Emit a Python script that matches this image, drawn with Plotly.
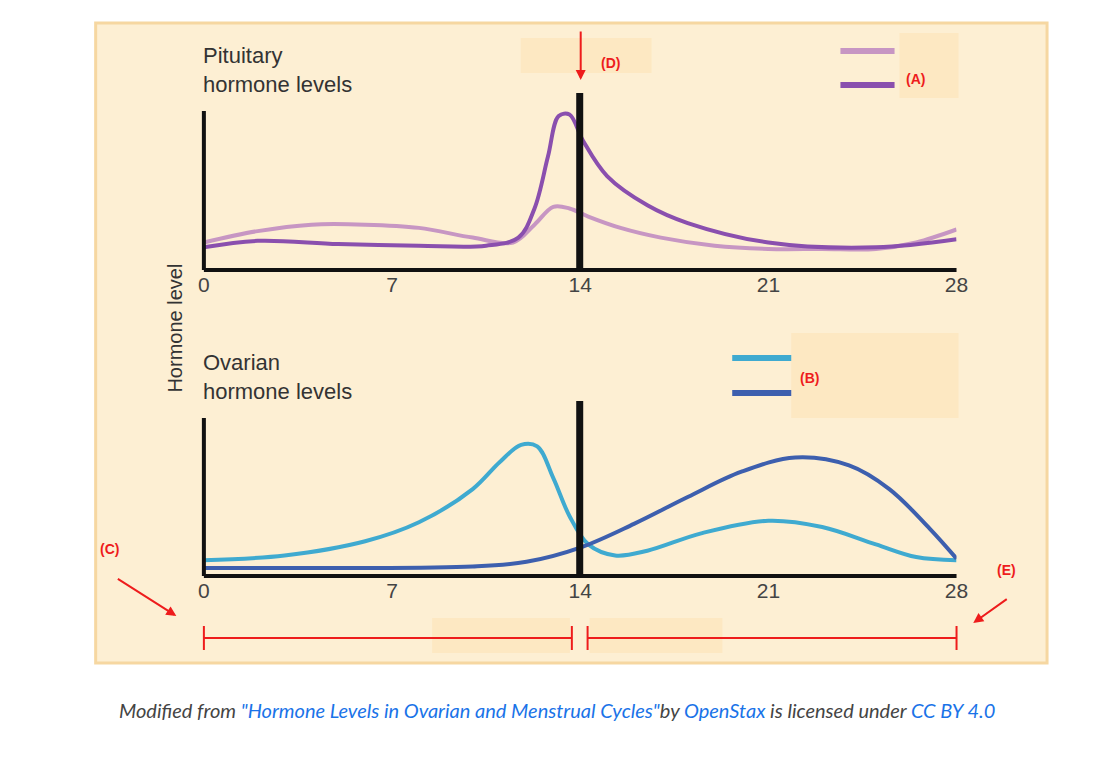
import plotly.graph_objects as go

W, H = 1115, 760

days = [0, 7, 14, 21, 28]

# pituitary hormones (relative level 0..1)
pit_light_day = [0, 2, 4, 6, 8, 10, 11.5, 12.3, 13, 13.6, 14.3, 15.5, 17, 19, 21, 23, 25, 26.5, 28]
pit_light_val = [0.17, 0.24, 0.28, 0.28, 0.26, 0.2, 0.17, 0.28, 0.39, 0.38, 0.33, 0.26, 0.2, 0.15, 0.13, 0.13, 0.13, 0.17, 0.25]
pit_dark_day = [0, 2, 5, 8, 10.5, 11.7, 12.3, 12.8, 13.2, 13.6, 14.1, 15, 16.5, 18, 21, 25, 28]
pit_dark_val = [0.14, 0.18, 0.16, 0.15, 0.15, 0.2, 0.38, 0.7, 0.95, 0.96, 0.8, 0.58, 0.4, 0.29, 0.17, 0.14, 0.19]

# ovarian hormones
ov_light_day = [0, 3, 6, 8, 10, 11, 11.8, 12.4, 13, 13.6, 14.3, 15.3, 16.5, 18.5, 21, 23, 25, 26.5, 28]
ov_light_val = [0.1, 0.13, 0.22, 0.34, 0.55, 0.72, 0.83, 0.82, 0.62, 0.38, 0.2, 0.13, 0.16, 0.27, 0.35, 0.31, 0.2, 0.12, 0.1]
ov_dark_day = [0, 5, 10, 12, 14, 16, 18, 20, 22, 24, 25.5, 27, 28]
ov_dark_val = [0.05, 0.05, 0.06, 0.09, 0.18, 0.33, 0.5, 0.66, 0.75, 0.7, 0.55, 0.3, 0.11]

C_LPUR, C_DPUR = "#c796c3", "#8a4fae"
C_LBLU, C_DBLU = "#3faad0", "#3d5fae"
RED = "#ee1c1c"
BEIGE = "#fdefd3"


def px(x):
    return x / W


def py(y):
    return 1 - y / H


fig = go.Figure()

fig.add_trace(go.Scatter(x=pit_light_day, y=pit_light_val, mode="lines", line=dict(color=C_LPUR, width=4, shape="spline"), xaxis="x", yaxis="y"))
fig.add_trace(go.Scatter(x=pit_dark_day, y=pit_dark_val, mode="lines", line=dict(color=C_DPUR, width=4, shape="spline"), xaxis="x", yaxis="y"))
fig.add_trace(go.Scatter(x=ov_light_day, y=ov_light_val, mode="lines", line=dict(color=C_LBLU, width=4, shape="spline"), xaxis="x2", yaxis="y2"))
fig.add_trace(go.Scatter(x=ov_dark_day, y=ov_dark_val, mode="lines", line=dict(color=C_DBLU, width=4, shape="spline"), xaxis="x2", yaxis="y2"))

axx = dict(range=[0, 28], domain=[px(193), px(958)], showgrid=False, zeroline=False,
           tickvals=days, ticks="", showline=False,
           tickfont=dict(family="Liberation Sans, Arial", size=21, color="#444"))
axy = dict(range=[0, 1], showgrid=False, zeroline=False, showticklabels=False, showline=False)
fig.update_layout(
    xaxis=dict(axx, anchor="y"),
    yaxis=dict(axy, domain=[py(262), py(100)], anchor="x"),
    xaxis2=dict(axx, anchor="y2"),
    yaxis2=dict(axy, domain=[py(568), py(410)], anchor="x2"),
)

shapes = []
# panel
shapes.append(dict(type="rect", xref="paper", yref="paper", x0=px(83), x1=px(1050), y0=py(655), y1=py(15),
                   fillcolor=BEIGE, line=dict(color="#f6d7a1", width=3), layer="below"))
# axes lines
for top, base in [(103, 262), (410, 568)]:
    shapes.append(dict(type="line", xref="paper", yref="paper", x0=px(193), x1=px(193), y0=py(base), y1=py(top), line=dict(color="#111", width=4)))
    shapes.append(dict(type="line", xref="paper", yref="paper", x0=px(193), x1=px(958), y0=py(base), y1=py(base), line=dict(color="#111", width=4)))
# ovulation bars
shapes.append(dict(type="line", xref="paper", yref="paper", x0=px(575), x1=px(575), y0=py(262), y1=py(85), line=dict(color="#111", width=7)))
shapes.append(dict(type="line", xref="paper", yref="paper", x0=px(575), x1=px(575), y0=py(568), y1=py(393), line=dict(color="#111", width=7)))
# beige label boxes
for x0, y0, x1, y1 in [(515, 30, 648, 65), (900, 25, 960, 90), (790, 325, 960, 410), (425, 610, 565, 645), (585, 610, 720, 645)]:
    shapes.append(dict(type="rect", xref="paper", yref="paper", x0=px(x0), x1=px(x1), y0=py(y1), y1=py(y0),
                       fillcolor="#fde8c2", line=dict(width=0)))
# legend swatches
for x0, x1, y, c in [(840, 895, 43, C_LPUR), (840, 895, 77, C_DPUR), (730, 790, 350, C_LBLU), (730, 790, 385, C_DBLU)]:
    shapes.append(dict(type="line", xref="paper", yref="paper", x0=px(x0), x1=px(x1), y0=py(y), y1=py(y), line=dict(color=c, width=6)))
# red brackets
for x0, x1 in [(193, 567), (583, 958)]:
    shapes.append(dict(type="line", xref="paper", yref="paper", x0=px(x0), x1=px(x1), y0=py(630), y1=py(630), line=dict(color=RED, width=2)))
    for xe in (x0, x1):
        shapes.append(dict(type="line", xref="paper", yref="paper", x0=px(xe), x1=px(xe), y0=py(642), y1=py(618), line=dict(color=RED, width=2)))
fig.update_layout(shapes=shapes)

ann = []
txt = dict(family="Liberation Sans, Arial", size=22, color="#333")
ann.append(dict(x=px(190), y=py(62), text="Pituitary<br>hormone levels", xanchor="left", yanchor="middle", align="left", font=txt))
ann.append(dict(x=px(190), y=py(369), text="Ovarian<br>hormone levels", xanchor="left", yanchor="middle", align="left", font=txt))
ann.append(dict(x=px(150), y=py(320), text="Hormone level", textangle=-90, font=dict(txt, size=20)))
red = dict(family="Liberation Sans, Arial", size=14, color=RED)
for x, y, t in [(606, 45, "<b>(D)</b>"), (928, 61, "<b>(A)</b>"), (820, 370, "<b>(B)</b>"), (85, 551, "<b>(C)</b>"), (1020, 572, "<b>(E)</b>")]:
    ann.append(dict(x=px(x), y=py(y), text=t, font=red))
# red arrows (tail offset in pixels)
for x0, y0, x1, y1 in [(576, 22, 576, 72), (105, 570, 165, 608), (1010, 590, 975, 615)]:
    ann.append(dict(x=px(x1), y=py(y1), ax=x0 - x1, ay=y0 - y1, text="",
                    showarrow=True, arrowhead=2, arrowsize=1, arrowwidth=2, arrowcolor=RED))
cap = ('<i>Modified from <a href="#"><span style="color:#1a73e8">"Hormone Levels in Ovarian and Menstrual Cycles"</span></a>'
       'by <a href="#"><span style="color:#1a73e8">OpenStax </span></a>is licensed under '
       '<a href="#"><span style="color:#1a73e8">CC BY 4.0</span></a></i>')
ann.append(dict(x=px(552), y=py(716), text=cap, font=dict(family="Lato, sans-serif", size=20, color="#444")))
for a in ann:
    a.setdefault("xref", "paper")
    a.setdefault("yref", "paper")
    a.setdefault("showarrow", False)
fig.update_layout(annotations=ann)

fig.update_layout(width=W, height=H, margin=dict(l=0, r=0, t=0, b=0), showlegend=False,
                  plot_bgcolor="rgba(0,0,0,0)", paper_bgcolor="white")
fig.write_html("out.html")
